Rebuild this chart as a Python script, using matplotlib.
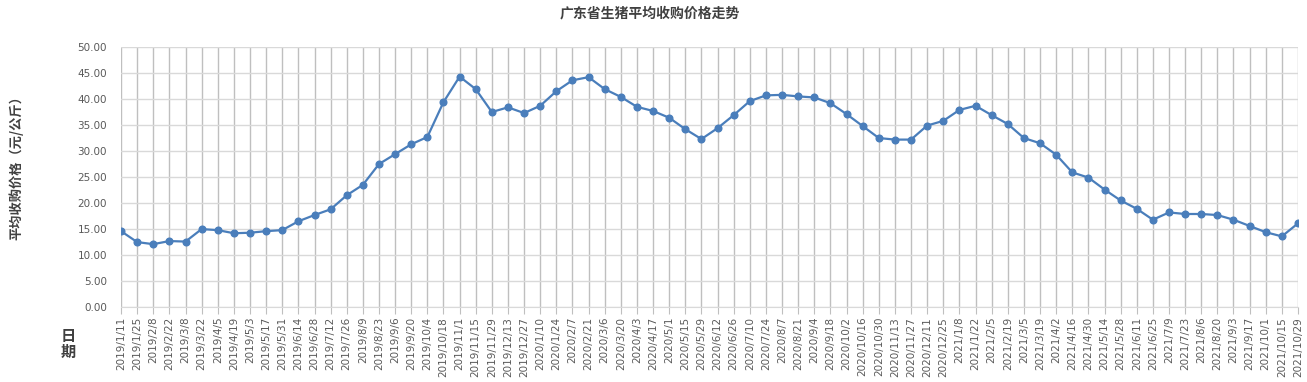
import matplotlib
matplotlib.use("Agg")
import matplotlib.pyplot as plt

plt.rcParams['font.family'] = ['DejaVu Sans', 'Noto Sans CJK SC']

dates = [
    "2019/1/11", "2019/1/25", "2019/2/8", "2019/2/22", "2019/3/8", "2019/3/22", "2019/4/5", "2019/4/19",
    "2019/5/3", "2019/5/17", "2019/5/31", "2019/6/14", "2019/6/28", "2019/7/12", "2019/7/26", "2019/8/9",
    "2019/8/23", "2019/9/6", "2019/9/20", "2019/10/4", "2019/10/18", "2019/11/1", "2019/11/15", "2019/11/29",
    "2019/12/13", "2019/12/27", "2020/1/10", "2020/1/24", "2020/2/7", "2020/2/21", "2020/3/6", "2020/3/20",
    "2020/4/3", "2020/4/17", "2020/5/1", "2020/5/15", "2020/5/29", "2020/6/12", "2020/6/26", "2020/7/10",
    "2020/7/24", "2020/8/7", "2020/8/21", "2020/9/4", "2020/9/18", "2020/10/2", "2020/10/16", "2020/10/30",
    "2020/11/13", "2020/11/27", "2020/12/11", "2020/12/25", "2021/1/8", "2021/1/22", "2021/2/5", "2021/2/19",
    "2021/3/5", "2021/3/19", "2021/4/2", "2021/4/16", "2021/4/30", "2021/5/14", "2021/5/28", "2021/6/11",
    "2021/6/25", "2021/7/9", "2021/7/23", "2021/8/6", "2021/8/20", "2021/9/3", "2021/9/17", "2021/10/1",
    "2021/10/15", "2021/10/29",
]

prices = [
    14.6, 12.5, 12.1, 12.7, 12.6, 15.0, 14.8, 14.2, 14.3, 14.6, 14.8, 16.5, 17.7, 18.8, 21.5, 23.5,
    27.5, 29.4, 31.3, 32.7, 39.4, 44.3, 41.9, 37.5, 38.4, 37.3, 38.7, 41.5, 43.6, 44.2, 41.9, 40.4,
    38.5, 37.7, 36.4, 34.2, 32.3, 34.4, 36.9, 39.6, 40.7, 40.8, 40.5, 40.3, 39.2, 37.1, 34.8, 32.5,
    32.2, 32.2, 34.9, 35.8, 37.9, 38.7, 36.9, 35.2, 32.5, 31.5, 29.3, 25.9, 24.9, 22.6, 20.5, 18.9,
    16.8, 18.2, 17.9, 17.9, 17.7, 16.8, 15.6, 14.4, 13.6, 16.1,
]

yticks = [0, 5, 10, 15, 20, 25, 30, 35, 40, 45, 50]

fig = plt.figure(figsize=(13.07, 3.82), dpi=100)
ax = fig.add_axes([0.0926, 0.196, 0.9005, 0.681])

x = list(range(len(dates)))
ax.plot(x, prices, color='#4a7ebb', linewidth=1.6, marker='o', markersize=4.8, zorder=3)

ax.set_xlim(0, len(dates) - 1)
ax.set_ylim(0, 50)
ax.set_yticks(yticks)
ax.set_yticklabels([f"{v:.2f}" for v in yticks], fontsize=7.5, color='#595959')
ax.set_xticks(x)
ax.set_xticklabels(dates, rotation=90, fontsize=7.5, color='#595959')

ax.grid(axis='y', color='#d9d9d9', linewidth=1)
ax.grid(axis='x', color='#bfbfbf', linewidth=1)
ax.set_axisbelow(True)
for s in ['top', 'right', 'left']:
    ax.spines[s].set_visible(False)
ax.spines['bottom'].set_color('#d9d9d9')
ax.tick_params(axis='y', length=0, pad=10)
ax.tick_params(axis='x', length=5, color='#bfbfbf', pad=2)

fig.text(0.497, 0.965, "广东省生猪平均收购价格走势", ha='center', va='center',
         fontsize=10, fontweight='bold', color='#404040', family=['Noto Sans CJK SC'])
fig.text(0.012, 0.57, "平均收购价格（元/公斤）", ha='center', va='center', rotation=90,
         fontsize=9.5, fontweight='bold', color='#404040', family=['Noto Sans CJK SC'])
fig.text(0.052, 0.1, "日\n期", ha='center', va='center', linespacing=0.95,
         fontsize=11, fontweight='bold', color='#404040', family=['Noto Sans CJK SC'])

fig.savefig("out.png", dpi=100)
